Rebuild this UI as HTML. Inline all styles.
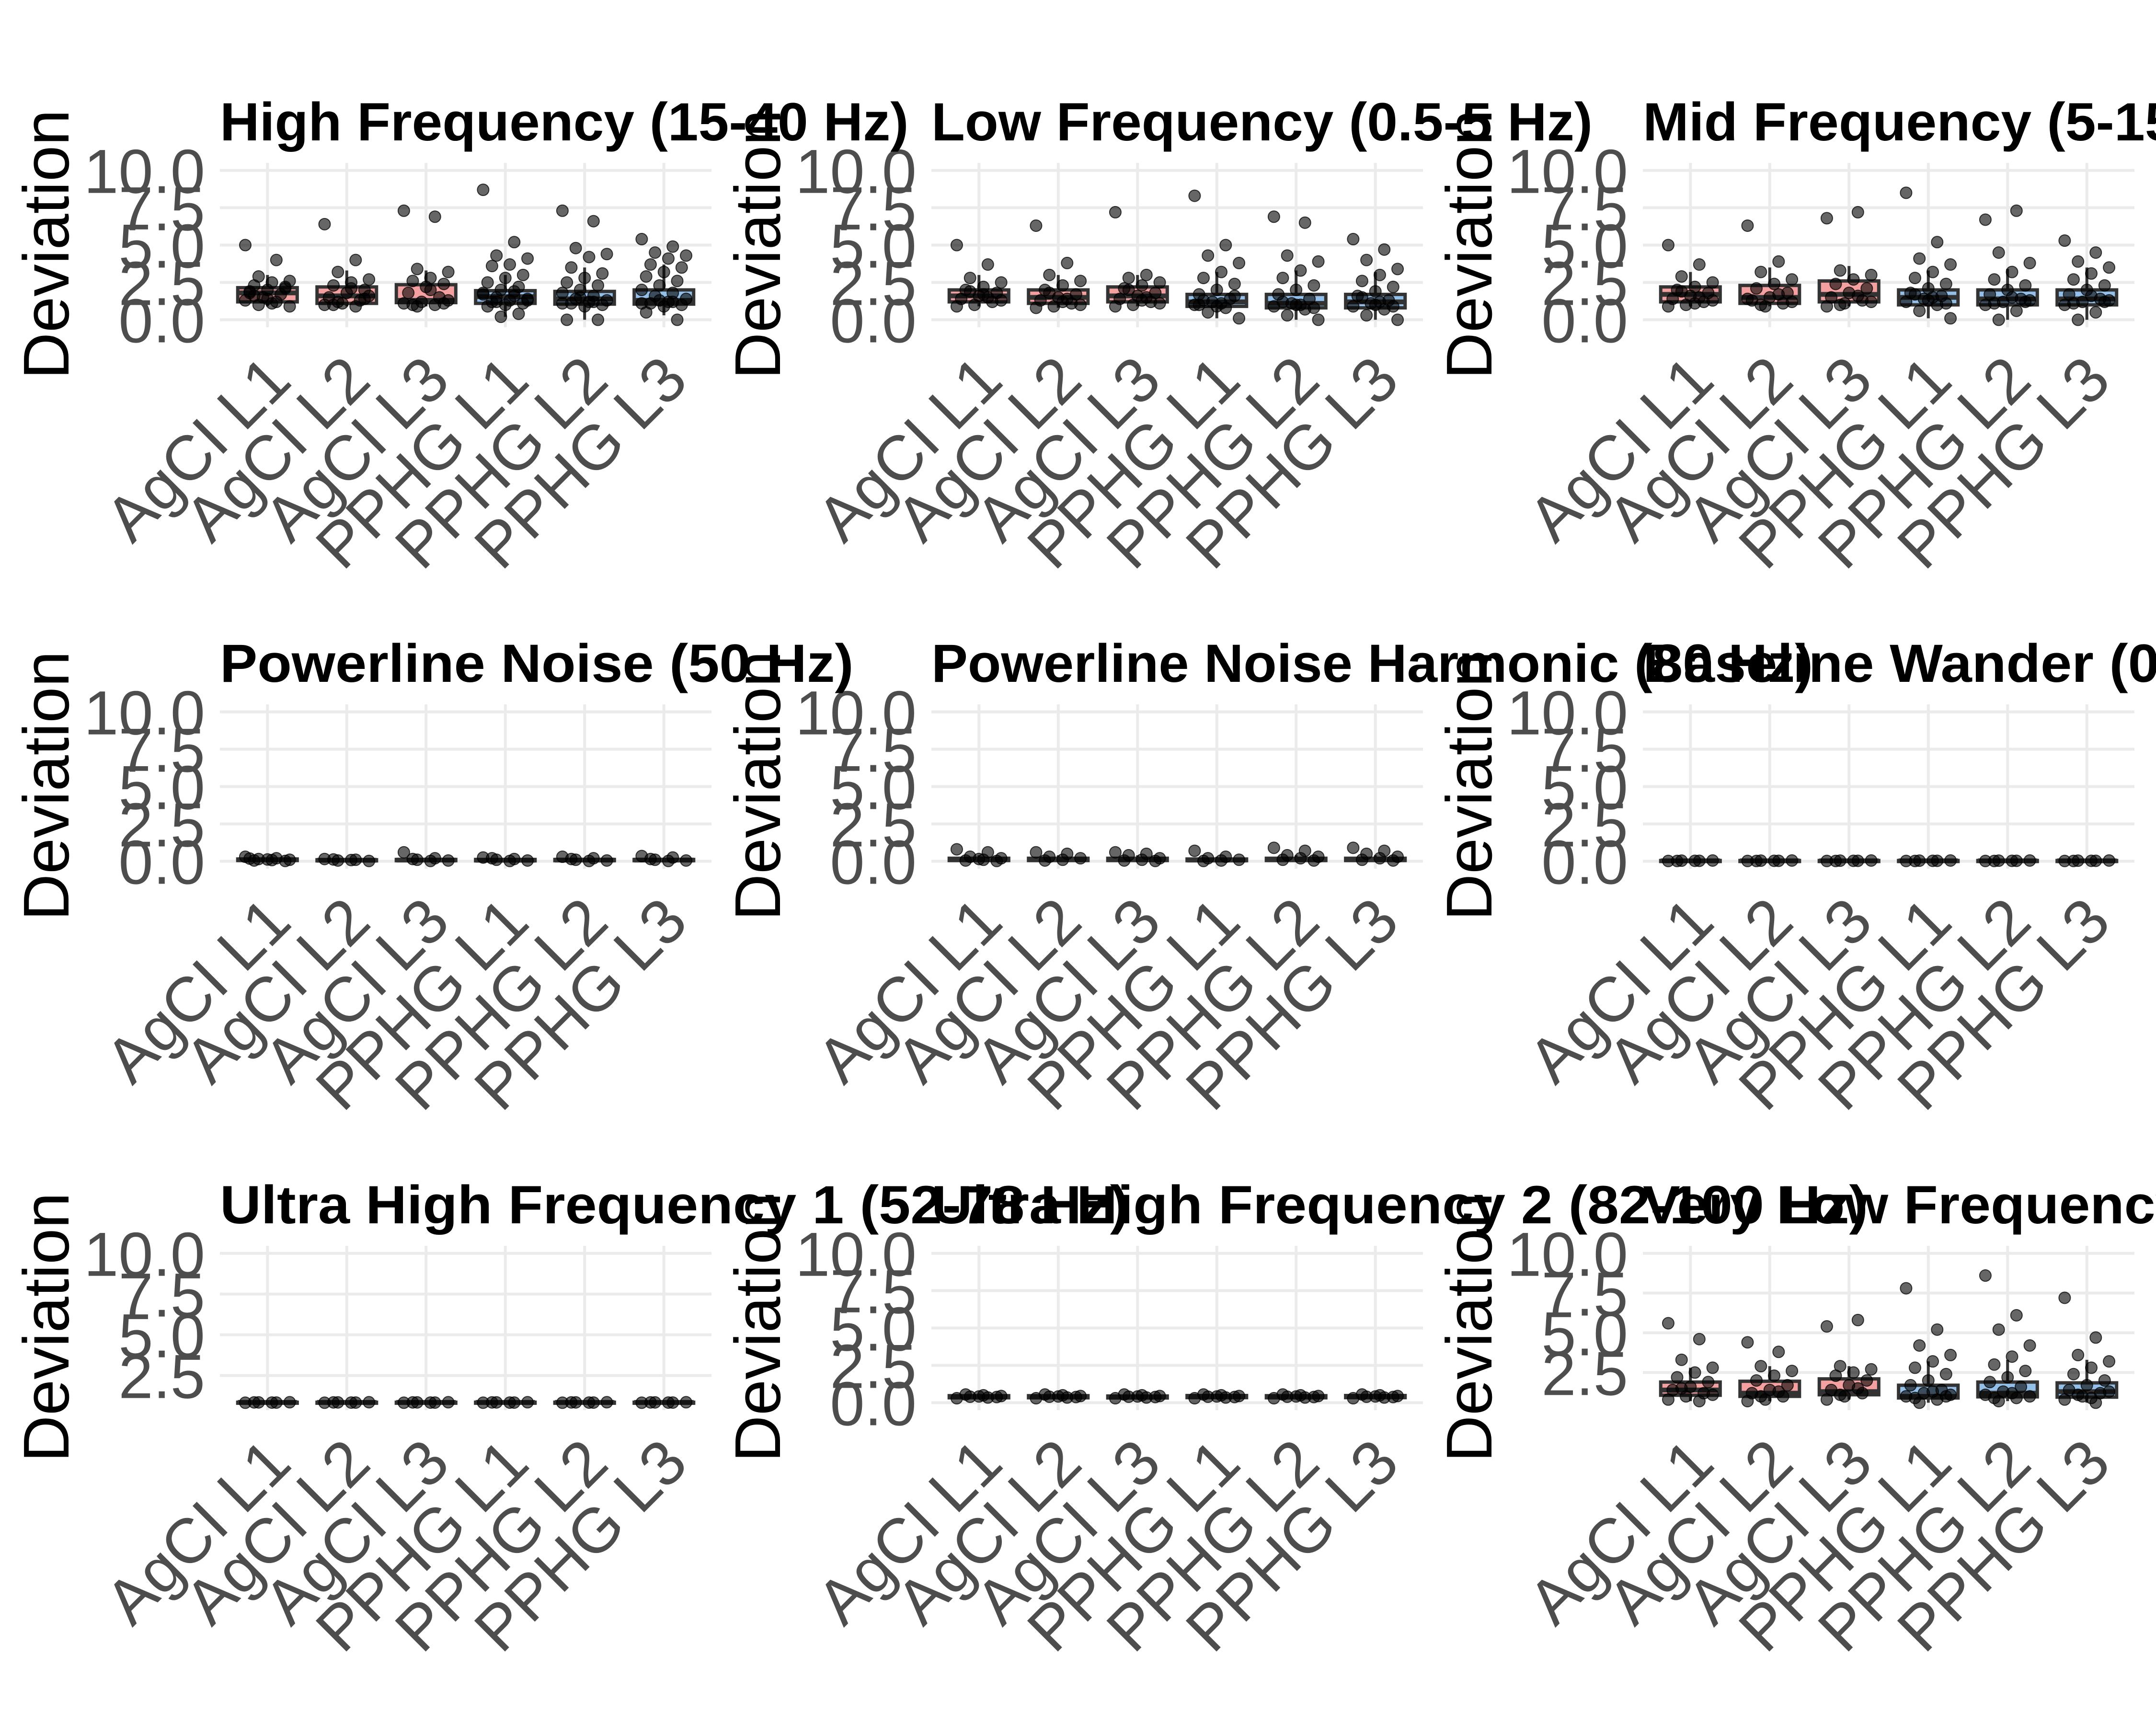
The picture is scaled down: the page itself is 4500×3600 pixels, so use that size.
<!DOCTYPE html>
<html><head><meta charset="utf-8"><style>
html,body{margin:0;padding:0;background:#fff;}
svg{display:block;}
</style></head><body>
<svg id="chart" xmlns="http://www.w3.org/2000/svg" width="4500" height="3600" viewBox="0 0 4500 3600">
<rect width="4500" height="3600" fill="#fff"/>
</svg>
<script>
const categories = ["AgCI L1","AgCI L2","AgCI L3","PPHG L1","PPHG L2","PPHG L3"];
const titles = ["High Frequency (15-40 Hz)","Low Frequency (0.5-5 Hz)","Mid Frequency (5-15 Hz)",
 "Powerline Noise (50 Hz)","Powerline Noise Harmonic (80 Hz)","Baseline Wander (0-0.5 Hz)",
 "Ultra High Frequency 1 (52-78 Hz)","Ultra High Frequency 2 (82-100 Hz)","Very Low Frequency (0.1-0.5 Hz)"];
const yMins = [0,0,0,0,0,0,0.83,0,0.6];
const yTicks = [0,2.5,5,7.5,10];
const tickLabels = ["0.0","2.5","5.0","7.5","10.0"];
const q1 = [[1.2,1.1,1.15,1.1,1.05,1.05],[1.2,1.1,1.2,0.9,0.8,0.8],[1.2,1.1,1.2,1.0,1.0,1.0],
 [0.05,0.03,0.04,0.03,0.04,0.04],[0.05,0.05,0.05,0.04,0.05,0.05],[0.02,0.02,0.02,0.02,0.02,0.02],
 [0.84,0.84,0.84,0.84,0.84,0.84],[0.33,0.33,0.32,0.34,0.33,0.34],[1.07,1.0,1.1,0.9,0.97,0.95]];
const med = [[1.8,1.6,1.3,1.55,1.4,1.3],[1.6,1.5,1.6,1.2,1.1,1.2],[1.7,1.5,1.7,1.5,1.4,1.4],
 [0.1,0.07,0.08,0.07,0.08,0.08],[0.1,0.1,0.1,0.08,0.1,0.1],[0.03,0.03,0.03,0.03,0.03,0.03],
 [0.85,0.85,0.85,0.85,0.85,0.85],[0.4,0.4,0.38,0.41,0.4,0.41],[1.4,1.2,1.3,1.0,1.2,1.3]];
const q3 = [[2.15,2.2,2.35,1.95,1.9,2.0],[2.0,2.0,2.2,1.7,1.7,1.7],[2.2,2.3,2.6,2.0,2.0,2.0],
 [0.15,0.1,0.12,0.12,0.12,0.12],[0.2,0.2,0.2,0.15,0.2,0.2],[0.05,0.05,0.05,0.05,0.05,0.05],
 [0.86,0.86,0.86,0.86,0.86,0.86],[0.47,0.47,0.45,0.48,0.47,0.48],[1.9,1.95,2.1,1.7,1.9,1.85]];
const wLo = [[0.9,0.9,0.9,0.2,0.0,0.3],[0.9,0.8,0.9,0.1,0.0,0.0],[0.9,0.9,0.9,0.1,0.0,0.0],
 [0,0,0,0,0,0],[0,0,0,0,0,0],[0,0,0,0,0,0],[0.83,0.83,0.83,0.83,0.83,0.83],
 [0.25,0.25,0.25,0.25,0.25,0.25],[0.7,0.7,0.8,0.6,0.7,0.6]];
const wHi = [[3.0,3.3,3.3,3.0,3.5,3.7],[3.0,3.0,3.0,3.2,3.3,3.2],[3.2,3.5,3.6,3.3,3.4,3.5],
 [0.25,0.15,0.2,0.2,0.2,0.2],[0.4,0.4,0.4,0.3,0.4,0.4],[0.06,0.06,0.06,0.06,0.06,0.06],
 [0.87,0.87,0.87,0.87,0.87,0.87],[0.6,0.6,0.58,0.6,0.6,0.6],[2.8,2.9,2.9,3.2,3.3,3.3]];
const points = [
 [[5.0,4.0,2.9,2.6,2.5,2.3,2.1,2.0,1.9,1.7,1.5,1.3,1.2,1.0,0.9,1.1,1.6,2.2,1.4,1.8],
  [6.4,4.0,3.2,2.7,2.5,2.3,2.0,1.8,1.5,1.3,1.1,1.0,0.9,1.2,1.6,2.1,1.0,1.4],
  [7.3,6.9,3.4,3.2,2.8,2.6,2.4,2.2,1.8,1.5,1.2,1.1,1.0,0.9,1.3,2.0,1.0,1.1],
  [8.7,5.2,4.3,4.1,3.7,3.6,3.0,2.8,2.5,2.2,2.0,1.8,1.6,1.5,1.4,1.3,1.2,1.1,1.0,0.9,0.4,0.2,1.7,1.9,1.2,1.3],
  [7.3,6.6,4.8,4.4,4.2,3.5,3.1,2.8,2.5,2.3,2.0,1.8,1.6,1.4,1.3,1.2,1.1,1.0,0.9,0.0,0.0,1.5,1.1,1.2],
  [5.4,4.9,4.5,4.3,4.1,3.7,3.5,3.2,2.9,2.6,2.3,2.0,1.8,1.6,1.4,1.2,1.1,1.0,0.9,0.5,0.0,1.3,1.1,1.2]],
 [[5.0,3.7,2.8,2.5,2.2,2.0,1.8,1.6,1.4,1.2,1.0,0.9,1.5,1.9,1.3,1.7],
  [6.3,3.8,3.0,2.6,2.3,2.0,1.7,1.5,1.3,1.1,0.9,0.8,1.4,1.8,1.0,1.2],
  [7.2,3.0,2.8,2.5,2.3,2.1,1.8,1.6,1.4,1.2,1.0,0.9,1.5,2.0,1.1,1.3],
  [8.3,5.0,4.3,3.8,3.2,2.8,2.4,2.0,1.7,1.4,1.2,1.0,0.8,0.5,0.1,1.1,1.3,1.6,0.9,1.0],
  [6.9,6.5,4.3,3.9,3.3,2.8,2.3,2.0,1.7,1.4,1.1,0.9,0.7,0.3,0.0,1.0,1.2,0.8,1.0],
  [5.4,4.7,4.0,3.4,3.0,2.6,2.2,1.9,1.6,1.3,1.1,0.9,0.7,0.3,0.0,1.2,1.5,0.9,1.0]],
 [[5.0,3.7,2.9,2.5,2.2,2.0,1.8,1.6,1.4,1.2,1.0,0.9,1.5,1.9,1.3,1.1],
  [6.3,3.9,3.2,2.7,2.4,2.1,1.8,1.5,1.3,1.1,0.9,1.4,1.7,1.0,1.2],
  [6.8,7.2,3.3,3.0,2.7,2.4,2.1,1.8,1.5,1.3,1.1,0.9,1.6,1.0,1.2],
  [8.5,5.2,4.1,3.7,3.2,2.8,2.4,2.1,1.8,1.6,1.4,1.2,1.0,0.6,0.1,1.5,1.7,1.1,1.3],
  [6.7,7.3,4.5,3.8,3.2,2.7,2.3,2.0,1.7,1.4,1.2,1.0,0.6,0.0,1.3,1.5,1.1,1.2],
  [5.3,4.5,3.9,3.5,3.1,2.7,2.3,2.0,1.7,1.4,1.2,1.0,0.5,0.0,1.3,1.6,1.1,1.2]],
 [[0.3,0.2,0.15,0.1,0.08,0.05,0.02,0.12,0.18],[0.15,0.1,0.05,0.02,0.08,0.12],
  [0.6,0.2,0.1,0.05,0.02,0.15],[0.25,0.15,0.1,0.05,0.02,0.2],
  [0.3,0.2,0.1,0.05,0.02,0.15],[0.35,0.25,0.1,0.05,0.02,0.15]],
 [[0.8,0.6,0.3,0.2,0.1,0.05,0.02,0.15],[0.6,0.5,0.3,0.2,0.1,0.05],
  [0.6,0.5,0.4,0.2,0.1,0.05,0.02],[0.7,0.3,0.2,0.1,0.05,0.02],
  [0.9,0.7,0.4,0.3,0.2,0.1,0.05],[0.9,0.7,0.5,0.3,0.2,0.1,0.05]],
 [[0.02,0.03,0.04,0.05,0.03,0.02],[0.02,0.03,0.04,0.05,0.03,0.02],[0.02,0.03,0.04,0.05,0.03,0.02],
  [0.02,0.03,0.04,0.05,0.03,0.02],[0.02,0.03,0.04,0.05,0.03,0.02],[0.02,0.03,0.04,0.05,0.03,0.02]],
 [[0.83,0.84,0.85,0.86,0.84,0.85],[0.83,0.84,0.85,0.86,0.84,0.85],[0.83,0.84,0.85,0.86,0.84,0.85],
  [0.83,0.84,0.85,0.86,0.84,0.85],[0.83,0.84,0.85,0.86,0.84,0.85],[0.83,0.84,0.85,0.86,0.84,0.85]],
 [[0.3,0.35,0.4,0.45,0.5,0.55,0.38,0.42],[0.3,0.35,0.4,0.45,0.5,0.55,0.38,0.42],
  [0.3,0.35,0.4,0.45,0.5,0.55,0.38,0.42],[0.3,0.35,0.4,0.45,0.5,0.55,0.38,0.42],
  [0.3,0.35,0.4,0.45,0.5,0.55,0.38,0.42],[0.3,0.35,0.4,0.45,0.5,0.55,0.38,0.42]],
 [[5.6,4.6,3.3,2.8,2.5,2.2,1.9,1.6,1.4,1.2,1.0,0.8,0.7,1.5,1.1],
  [4.4,3.8,2.9,2.6,2.3,2.0,1.7,1.4,1.2,1.0,0.8,0.7,1.3,1.0],
  [5.4,5.8,2.9,2.7,2.5,2.3,2.0,1.7,1.4,1.2,1.0,0.8,1.5,1.1],
  [7.8,5.2,4.2,3.6,3.2,2.8,2.4,2.0,1.7,1.4,1.2,1.0,0.8,0.6,1.1,1.3,0.9,1.0],
  [8.6,6.1,5.2,4.2,3.5,3.0,2.6,2.2,1.9,1.6,1.3,1.1,0.9,0.7,1.0,1.2,0.9],
  [7.2,4.7,3.6,3.2,2.8,2.4,2.0,1.7,1.4,1.2,1.0,0.8,0.6,1.1,1.3,0.9]]
];

const NS = "http://www.w3.org/2000/svg";
const svg = document.getElementById('chart');
function mk(tag, attrs, parent){ const e=document.createElementNS(NS,tag); for(const k in attrs) e.setAttribute(k,attrs[k]); (parent||svg).appendChild(e); return e; }

const COLW = 1485, ROWH = 1130;
const PX0 = 459, PX1 = 1485, PT = 340, PB = 683;
const UNIT = (PX1-PX0)/6.2;
const fills = ["#f4a0a0","#f4a0a0","#f4a0a0","#93bfe8","#93bfe8","#93bfe8"];

titles.forEach((title, p) => {
  const col = p % 3, row = Math.floor(p / 3);
  const ox = col*COLW, oy = row*ROWH;
  const g = mk('g', {transform:`translate(${ox},${oy})`});
  
  
  const ymin = yMins[p], span = 10 - ymin;
  const lo = ymin - 0.05*span, rng = 1.1*span;
  const yS = v => PB - (v - lo)/rng*(PB-PT);
  const xS = i => PX0 + (0.6 + i)*UNIT;

  yTicks.forEach((t, k) => {
    if (t < lo) return;
    const gl = mk('line', {x1:PX0, x2:PX1, y1:yS(t), y2:yS(t), stroke:'#ebebeb', 'stroke-width':6}, g);
    
    
  });
  categories.forEach((c, i) => {
    const gl = mk('line', {x1:xS(i), x2:xS(i), y1:PT, y2:PB, stroke:'#ebebeb', 'stroke-width':6}, g);
    
    
  });
  yTicks.forEach((t, k) => {
    if (t < ymin - 0.01) return;
    const tl = mk('text', {x:428, y:yS(t)+47, 'text-anchor':'end', 'font-family':'Liberation Sans, sans-serif', 'font-size':130, fill:'#4d4d4d'}, g);
    tl.textContent = tickLabels[k];
    
    
  });
  categories.forEach((c, i) => {
    const ax = xS(i)+55, ay = 800;
    const xl = mk('text', {x:ax, y:ay, 'text-anchor':'end', transform:`rotate(-45 ${ax} ${ay})`, 'font-family':'Liberation Sans, sans-serif', 'font-size':132, fill:'#4d4d4d'}, g);
    xl.textContent = c;
    
    
  });
  const yt = mk('text', {x:143, y:510, 'text-anchor':'middle', transform:'rotate(-90 143 510)', 'font-family':'Liberation Sans, sans-serif', 'font-size':135, fill:'#000'}, g);
  yt.textContent = 'Deviation';
  
  

  categories.forEach((c, i) => {
    const cx = xS(i), hw = 0.375*UNIT;
    const bg = mk('g', {}, g);
    
    
    mk('line', {x1:cx, x2:cx, y1:yS(wLo[p][i]), y2:yS(q1[p][i]), stroke:'#333', 'stroke-width':6}, bg);
    mk('line', {x1:cx, x2:cx, y1:yS(q3[p][i]), y2:yS(wHi[p][i]), stroke:'#333', 'stroke-width':6}, bg);
    const top = yS(q3[p][i]), bot = yS(q1[p][i]);
    mk('rect', {x:cx-hw, y:top, width:2*hw, height:Math.max(bot-top,2), fill:fills[i], stroke:'#333', 'stroke-width':7}, bg);
    mk('line', {x1:cx-hw, x2:cx+hw, y1:yS(med[p][i]), y2:yS(med[p][i]), stroke:'#333', 'stroke-width':10}, bg);
    points[p][i].forEach((v, k) => {
      const jx = (((k*7) % 11) - 5) / 5 * 0.28 * UNIT;
      const pt = mk('circle', {cx:cx+jx, cy:yS(v), r:12, fill:'rgba(0,0,0,0.6)', stroke:'rgba(0,0,0,0.75)', 'stroke-width':2}, bg);
      
      
    });
  });
});
titles.forEach((title, p) => {
  const col = p % 3, row = Math.floor(p / 3);
  const tt = mk('text', {x:col*COLW+459, y:row*ROWH+293, 'font-family':'Liberation Sans, sans-serif', 'font-weight':'bold', 'font-size':112, fill:'#000', textLength: title.length*57.5, lengthAdjust:'spacingAndGlyphs'});
  tt.textContent = title;
  
  
});
</script>
</body></html>
